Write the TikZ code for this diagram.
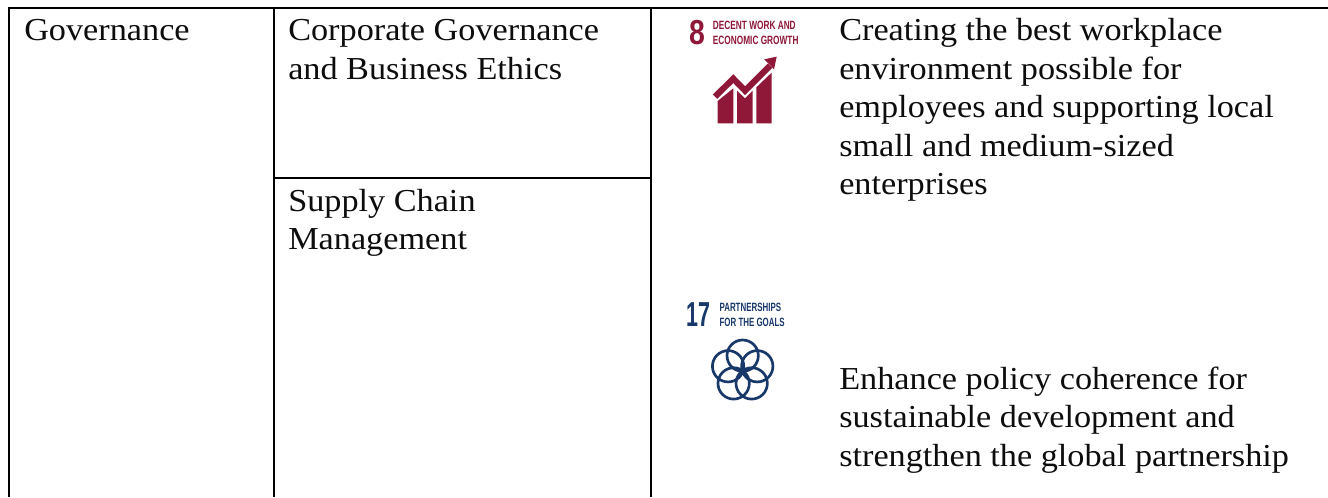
\documentclass[tikz,border=0pt]{standalone}
\usepackage{fontspec}
\setmainfont[FakeStretch=1.07]{Liberation Serif}
\newfontfamily\goalfont[FakeStretch=0.62]{Liberation Sans}
\newfontfamily\capfont[FakeStretch=0.66]{Liberation Sans}
\newfontfamily\capredfont[FakeStretch=0.69]{Liberation Sans}
\newfontfamily\eightfont[FakeStretch=0.82]{Liberation Sans}
\definecolor{sdgred}{HTML}{8F1838}
\definecolor{sdgblue}{HTML}{19386A}
\newcommand{\firstline}{\rule{0pt}{18pt}}
\tikzset{
  rule/.style={line width=1.6pt, black},
  cell/.style={anchor=north west, inner sep=0pt, align=left, font=\fontsize{24pt}{28.9pt}\selectfont, text=black!95},
  goalnum/.style={anchor=base west, inner sep=0pt, font=\goalfont\bfseries\fontsize{26pt}{26pt}\selectfont},
  goalcap/.style={anchor=base west, inner sep=0pt, align=left, font=\capfont\bfseries\fontsize{9pt}{11pt}\selectfont},
  goalcapred/.style={goalcap, font=\capredfont\bfseries\fontsize{9pt}{11pt}\selectfont},
}
\begin{document}
\begin{tikzpicture}[x=0.75pt,y=-0.75pt]
\useasboundingbox (0,0) rectangle (1328,497);
\fill[white] (0,0) rectangle (1328,497);
\coordinate (tl) at (9.3,7.6);
\coordinate (tr) at (1328,7.6);
\coordinate (bl) at (9.3,497);
\coordinate (c1t) at (273.8,7.6);
\coordinate (c1b) at (273.8,497);
\coordinate (c2t) at (650.8,7.6);
\coordinate (c2b) at (650.8,497);
\coordinate (m1) at (273.8,177.8);
\coordinate (m2) at (650.8,177.8);
\draw[rule] (bl) -- (tl) -- (tr);
\draw[rule] (c1t) -- (c1b);
\draw[rule] (c2t) -- (c2b);
\draw[rule] (m1) -- (m2);
\node[cell] (gov) at (24,16.5) {\firstline Governance};
\node[cell] (corp) at (288,16.5) {\firstline Corporate Governance\\and Business Ethics};
\node[cell] (supply) at (288,187) {\firstline Supply Chain\\Management};
\node[cell] (work) at (839,16.5) {\firstline Creating the best workplace\\environment possible for\\employees and supporting local\\small and medium-sized\\enterprises};
\node[cell] (policy) at (839,365) {\firstline Enhance policy coherence for\\sustainable development and\\strengthen the global partnership};
% SDG 8
\begin{scope}[shift={(670,0)},x=0.25pt,y=-0.25pt,sdgred]
\node[goalnum,font=\eightfont\bfseries\fontsize{26pt}{26pt}\selectfont,text=sdgred] (n8) at (58,132) {8};
\node[goalcapred,text=sdgred] (c8a) at (128,87) {DECENT WORK AND};
\node[goalcapred,text=sdgred] (c8b) at (128,132) {ECONOMIC GROWTH};
\fill (143,303) -- (190,265) -- (190,370) -- (143,370) -- cycle;
\fill (201,272) -- (225,295) -- (248,272) -- (248,370) -- (201,370) -- cycle;
\fill (259,262) -- (305,218) -- (305,370) -- (259,370) -- cycle;
\draw[line width=4.6pt,line join=miter] (135,290) -- (190,236) -- (225,272) -- (300,197);
\fill (283,178) -- (320,170) -- (312,208) -- cycle;
\end{scope}
% SDG 17
\begin{scope}[shift={(670,290)},x=0.25pt,y=-0.25pt]
\node[goalnum,text=sdgblue] (n17) at (50,110) {17};
\node[goalcap,text=sdgblue] (c17a) at (148,65) {PARTNERSHIPS};
\node[goalcap,text=sdgblue] (c17b) at (148,108) {FOR THE GOALS};
\foreach \a in {270,342,54,126,198}
  \draw[sdgblue,line width=2pt] (218,243) ++(\a:46) circle [radius=47];
\end{scope}
\end{tikzpicture}
\end{document}
